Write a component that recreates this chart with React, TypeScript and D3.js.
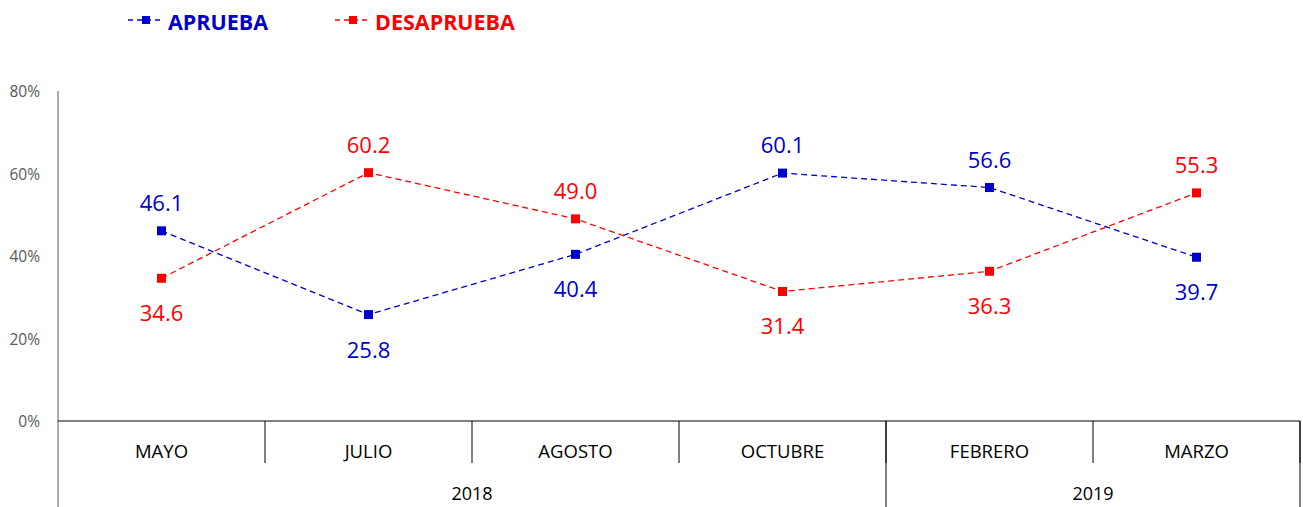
import React from "react";
import * as d3 from "d3";

const months = ["MAYO", "JULIO", "AGOSTO", "OCTUBRE", "FEBRERO", "MARZO"];
const years = [
  { label: "2018", from: 0, to: 4 },
  { label: "2019", from: 4, to: 6 },
];
const aprueba = [46.1, 25.8, 40.4, 60.1, 56.6, 39.7];
const desaprueba = [34.6, 60.2, 49.0, 31.4, 36.3, 55.3];
const yTicks = [0, 20, 40, 60, 80];

const BLUE = "#0000CC";
const RED = "#FF0000";
const FONT = "'Open Sans', 'Liberation Sans', sans-serif";

export default function App() {
  const width = 1303;
  const height = 507;
  const left = 58;
  const right = 1300;
  const top = 91;
  const bottom = 421;

  const x = d3.scaleBand().domain(months).range([left, right]);
  const y = d3.scaleLinear().domain([0, 80]).range([bottom, top]);
  const cx = (i: number) => (x(months[i]) as number) + x.bandwidth() / 2;

  const line = d3
    .line<number>()
    .x((d, i) => cx(i))
    .y((d) => y(d));

  const series = [
    { name: "APRUEBA", values: aprueba, other: desaprueba, color: BLUE, lx: 128 },
    { name: "DESAPRUEBA", values: desaprueba, other: aprueba, color: RED, lx: 335 },
  ];

  const edge = (i: number) => (i < months.length ? (x(months[i]) as number) : right);

  return (
    <svg
      width={width}
      height={height}
      style={{ position: "absolute", left: 0, top: 0, background: "#fff" }}
    >
      {/* legend */}
      {series.map((s) => (
        <g key={"lg" + s.name}>
          <line
            x1={s.lx}
            x2={s.lx + 36}
            y1={20}
            y2={20}
            stroke={s.color}
            strokeWidth={1.3}
            strokeDasharray="5,4"
          />
          <rect x={s.lx + 14} y={16} width={8} height={8} fill={s.color} />
          <text
            x={s.lx + 40}
            y={21}
            dominantBaseline="central"
            fontFamily={FONT}
            fontWeight="bold"
            fontSize={21.5}
            fill={s.color}
          >
            {s.name}
          </text>
        </g>
      ))}

      {/* y axis */}
      <line x1={left} x2={left} y1={top} y2={height} stroke="#595959" strokeWidth={1} />
      {yTicks.map((t) => (
        <text
          key={"yt" + t}
          x={40}
          y={y(t)}
          textAnchor="end"
          dominantBaseline="central"
          fontFamily={FONT}
          fontSize={15.5}
          fill="#595959"
        >
          {t}%
        </text>
      ))}

      {/* x axis */}
      <line x1={left} x2={right} y1={bottom} y2={bottom} stroke="#000" strokeWidth={1} />
      {months.map((m, i) => (
        <g key={"m" + m}>
          <line
            x1={edge(i + 1)}
            x2={edge(i + 1)}
            y1={bottom}
            y2={463}
            stroke="#000"
            strokeWidth={1}
          />
          <text
            x={cx(i)}
            y={450}
            textAnchor="middle"
            dominantBaseline="central"
            fontFamily={FONT}
            fontSize={18.5}
            fill="#000"
          >
            {m}
          </text>
        </g>
      ))}
      {years.map((yr) => (
        <g key={"y" + yr.label}>
          <line
            x1={edge(yr.to)}
            x2={edge(yr.to)}
            y1={bottom}
            y2={height}
            stroke="#000"
            strokeWidth={1}
          />
          <text
            x={(edge(yr.from) + edge(yr.to)) / 2}
            y={493}
            textAnchor="middle"
            dominantBaseline="central"
            fontFamily={FONT}
            fontSize={18}
            fill="#000"
          >
            {yr.label}
          </text>
        </g>
      ))}

      {/* series */}
      {series.map((s) => (
        <g key={"s" + s.name}>
          <path
            d={line(s.values) || ""}
            fill="none"
            stroke={s.color}
            strokeWidth={1.3}
            strokeDasharray="6,4"
          />
          {s.values.map((v, i) => (
            <rect
              key={i}
              x={cx(i) - 4.5}
              y={y(v) - 4.5}
              width={9}
              height={9}
              fill={s.color}
            />
          ))}
          {s.values.map((v, i) => {
            const above = v >= s.other[i];
            return (
              <text
                key={"l" + i}
                x={cx(i)}
                y={y(v) + (above ? -29 : 34)}
                textAnchor="middle"
                dominantBaseline="central"
                fontFamily={FONT}
                fontSize={22}
                fill={s.color}
              >
                {v.toFixed(1)}
              </text>
            );
          })}
        </g>
      ))}
    </svg>
  );
}
